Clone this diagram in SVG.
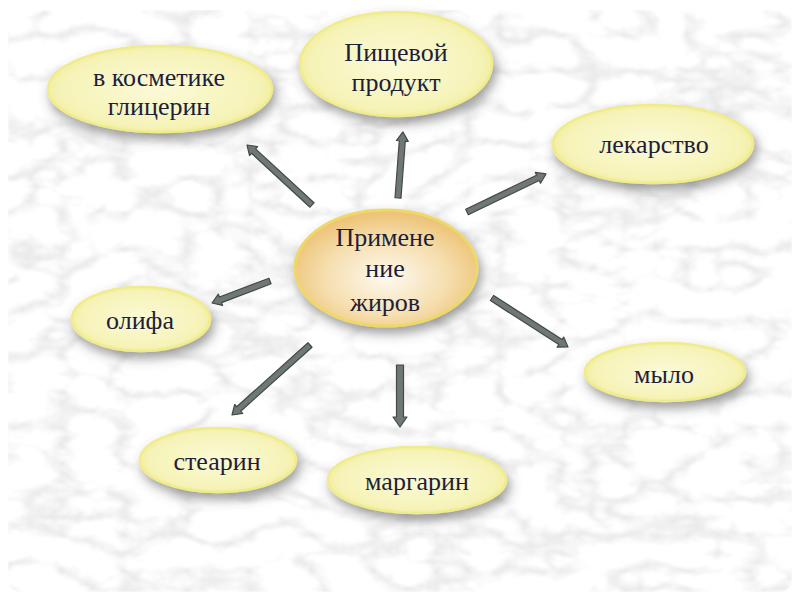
<svg xmlns="http://www.w3.org/2000/svg" width="800" height="600" viewBox="0 0 800 600">
<defs>
  <filter id="marble" x="0" y="0" width="100%" height="100%">
    <feTurbulence type="turbulence" baseFrequency="0.016 0.028" numOctaves="4" seed="11" result="n"/>
    <feColorMatrix in="n" type="matrix" values="0.6 0 0 0 0.79  0.6 0 0 0 0.79  0.6 0 0 0 0.8  0 0 0 0 1" result="g"/>
    <feGaussianBlur in="g" stdDeviation="0.8" result="b"/>
    <feComposite in="b" in2="SourceGraphic" operator="in"/>
  </filter>
  <filter id="shadow" x="-30%" y="-30%" width="160%" height="170%">
    <feDropShadow dx="3" dy="6" stdDeviation="6" flood-color="#4a4a4a" flood-opacity="0.55"/>
  </filter>
  <radialGradient id="pale" cx="50%" cy="50%" r="55%">
    <stop offset="0" stop-color="#fbfad6"/>
    <stop offset="0.8" stop-color="#f6f3b8"/>
    <stop offset="1" stop-color="#efeb92"/>
  </radialGradient>
  <radialGradient id="core" cx="50%" cy="58%" r="55%">
    <stop offset="0" stop-color="#fdf9f0"/>
    <stop offset="0.6" stop-color="#f6dfb0"/>
    <stop offset="1" stop-color="#edc478"/>
  </radialGradient>
  <style>
    .node ellipse { fill: url(#pale); stroke: #f0ec8a; stroke-width: 2.5; filter: url(#shadow); }
    #center ellipse { fill: url(#core); stroke: #eed868; stroke-width: 3; }
    text { font-family: "Liberation Serif", "DejaVu Serif", serif; font-size: 26px; fill: #1e1e3a; text-anchor: middle; }
    .arrow { fill: #6f7873; stroke: #434946; stroke-width: 1.2; stroke-linejoin: round; }
  </style>
</defs>
<rect width="800" height="600" fill="#ffffff"/>
<rect x="8" y="10" width="784" height="582" rx="12" fill="#e6e6e6" filter="url(#marble)"/>

<g id="connectors">
  <path class="arrow" transform="translate(312,205) rotate(-137.3)" d="M0,-3 H79.5 V-6 L88.5,0 L79.5,6 V3 H0 Z"/>
  <path class="arrow" transform="translate(398,198) rotate(-85.7)" d="M0,-3 H57.2 V-6 L66.2,0 L57.2,6 V3 H0 Z"/>
  <path class="arrow" transform="translate(467,212) rotate(-25.7)" d="M0,-3 H78.7 V-6 L87.7,0 L78.7,6 V3 H0 Z"/>
  <path class="arrow" transform="translate(270,281) rotate(159.2)" d="M0,-3 H53 V-6 L62,0 L53,6 V3 H0 Z"/>
  <path class="arrow" transform="translate(492,298) rotate(32.8)" d="M0,-3 H81.4 V-6 L90.4,0 L81.4,6 V3 H0 Z"/>
  <path class="arrow" transform="translate(310,345) rotate(138.1)" d="M0,-3 H95.8 V-6 L104.8,0 L95.8,6 V3 H0 Z"/>
  <path class="arrow" transform="translate(400,365) rotate(90)" d="M0,-3.5 H52 V-7 L62,0 L52,7 V3.5 H0 Z"/>
</g>

<g id="cosmetics" class="node">
  <ellipse cx="160" cy="89" rx="112" ry="43"/>
  <text x="159" y="86">в косметике</text>
  <text x="159" y="115">глицерин</text>
</g>
<g id="food" class="node">
  <ellipse cx="396" cy="64" rx="96" ry="52"/>
  <text x="396" y="61">Пищевой</text>
  <text x="396" y="91">продукт</text>
</g>
<g id="medicine" class="node">
  <ellipse cx="653" cy="144" rx="100" ry="39"/>
  <text x="654" y="153">лекарство</text>
</g>
<g id="center" class="node">
  <ellipse cx="386" cy="268" rx="91" ry="58"/>
  <text x="385" y="246">Примене</text>
  <text x="385" y="277">ние</text>
  <text x="385" y="311">жиров</text>
</g>
<g id="olifa" class="node">
  <ellipse cx="141" cy="319" rx="69" ry="32"/>
  <text x="140" y="329">олифа</text>
</g>
<g id="soap" class="node">
  <ellipse cx="665" cy="372" rx="80" ry="29"/>
  <text x="664" y="383">мыло</text>
</g>
<g id="stearin" class="node">
  <ellipse cx="218" cy="460" rx="78" ry="32"/>
  <text x="217" y="470">стеарин</text>
</g>
<g id="margarine" class="node">
  <ellipse cx="417" cy="480" rx="89" ry="33"/>
  <text x="417" y="490">маргарин</text>
</g>
</svg>
